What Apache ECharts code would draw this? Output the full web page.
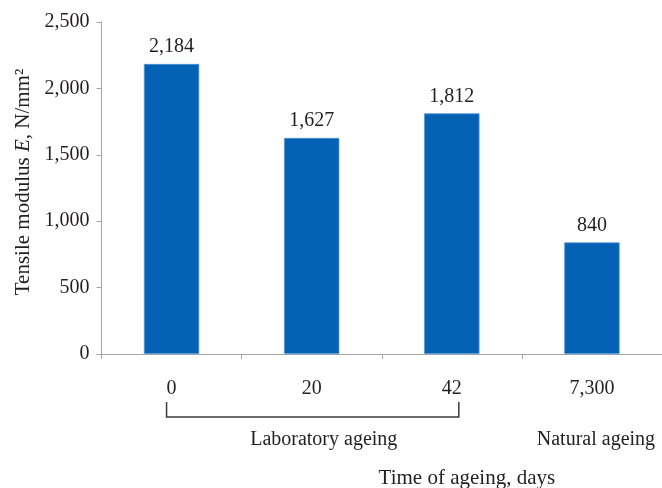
<!DOCTYPE html>
<html><head><meta charset="utf-8">
<script src="https://cdn.jsdelivr.net/npm/echarts@6/dist/echarts.min.js"></script>
<style>html,body{margin:0;padding:0;background:#fff}#c{width:662px;height:488px}</style>
</head><body><div id="c"></div>
<script>
const categories = ['0', '20', '42', '7,300'];
const modulusValues = [2184, 1627, 1812, 840];
const yTicks = [0, 500, 1000, 1500, 2000, 2500];
const groupLabels = ['Laboratory ageing', 'Natural ageing'];
const xTitle = 'Time of ageing, days';

const FONT = '"Liberation Serif", "Times New Roman", serif';
const TXT = '#231f20';
const chart = echarts.init(document.getElementById('c'), null, {renderer: 'canvas'});
const fmt = v => v.toLocaleString('en-US');

chart.setOption({
  animation: false,
  textStyle: {fontFamily: FONT},
  grid: {left: 101.5, right: -5, top: 22, bottom: 134, containLabel: false},
  xAxis: {
    type: 'category', data: categories,
    axisLine: {lineStyle: {color: '#a6a6a6', width: 1}},
    axisTick: {show: true, length: 5, lineStyle: {color: '#a6a6a6'}},
    axisLabel: {fontFamily: FONT, fontSize: 20, color: TXT, margin: 25}
  },
  yAxis: {
    type: 'value', min: yTicks[0], max: yTicks[yTicks.length - 1], interval: 500,
    name: 'Tensile modulus {i|E}, N/mm²',
    nameLocation: 'middle', nameGap: 68,
    nameTextStyle: {fontFamily: FONT, fontSize: 21, color: TXT, padding: [0, 0, 0, 12],
      rich: {i: {fontFamily: FONT, fontSize: 21, fontStyle: 'italic', color: TXT}}},
    axisLine: {show: true, lineStyle: {color: '#a6a6a6', width: 1}},
    axisTick: {show: true, length: 5, lineStyle: {color: '#a6a6a6'}},
    splitLine: {show: false},
    axisLabel: {fontFamily: FONT, fontSize: 20, color: TXT, margin: 12, formatter: v => fmt(v)}
  },
  series: [{
    type: 'bar', data: modulusValues, barWidth: '39.5%',
    itemStyle: {color: '#0561b3', borderColor: '#4a95d6', borderWidth: 0.8},
    label: {show: true, position: 'top', distance: 7, fontFamily: FONT, fontSize: 20, color: TXT,
      formatter: p => fmt(p.value)}
  }]
});

function drawExtras() {
  const p0 = chart.convertToPixel({xAxisIndex: 0}, categories[0]);
  const p1 = chart.convertToPixel({xAxisIndex: 0}, categories[1]);
  const p2 = chart.convertToPixel({xAxisIndex: 0}, categories[2]);
  const p3 = chart.convertToPixel({xAxisIndex: 0}, categories[3]);
  const y0 = chart.convertToPixel({yAxisIndex: 0}, 0);
  const bx1 = p0 - 5, bx2 = p2 + 7, byTop = y0 + 48, byBot = y0 + 63;
  chart.setOption({
    graphic: [
      {type: 'polyline', shape: {points: [[bx1, byTop], [bx1, byBot], [bx2, byBot], [bx2, byTop]]},
        style: {stroke: '#3a3a3a', lineWidth: 1.5, fill: null}},
      {type: 'text', x: (p1 + p2) / 2 - 58, y: y0 + 86,
        style: {text: groupLabels[0], font: '20px ' + FONT, fill: TXT, textAlign: 'center', textVerticalAlign: 'middle'}},
      {type: 'text', x: p3 + 4, y: y0 + 86,
        style: {text: groupLabels[1], font: '20px ' + FONT, fill: TXT, textAlign: 'center', textVerticalAlign: 'middle'}},
      {type: 'text', x: (p2 + p3) / 2 - 55, y: y0 + 124,
        style: {text: xTitle, font: '21px ' + FONT, fill: TXT, textAlign: 'center', textVerticalAlign: 'middle'}}
    ]
  });
}
drawExtras();
</script></body></html>
